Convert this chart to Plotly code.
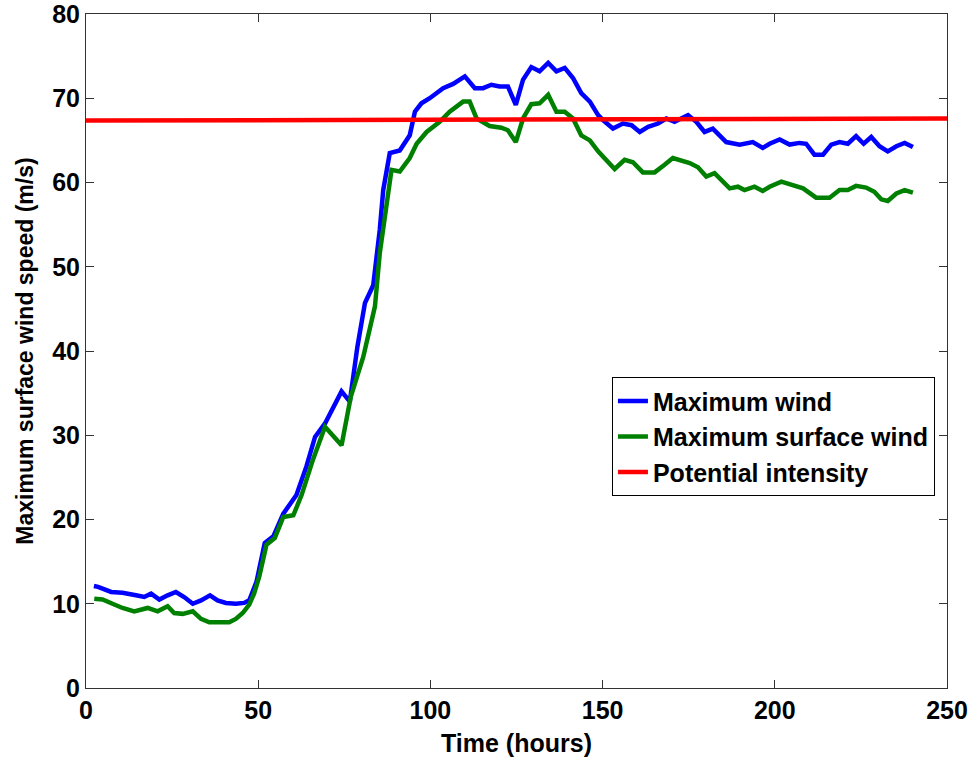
import plotly.graph_objects as go

# Maximum wind (blue)
blue_t = [2.3, 3.5, 7.3, 10.6, 14.5, 16.9, 18.9, 21.3, 23.7, 26.1, 28.5, 31.0, 33.4, 36.0, 38.2, 40.6,
          43.5, 45.9, 47.4, 49.5, 51.9, 54.4, 57.3, 61.1, 64.0, 66.5, 69.4, 74.2, 76.6, 77.8, 78.8,
          81.0, 83.4, 85.3, 86.3, 88.2, 91.1, 94.0, 95.5, 97.4, 99.8, 103.7, 106.6, 110.0, 112.9,
          115.3, 117.7, 120.1, 122.5, 124.8, 126.9, 129.3, 131.7, 134.2, 136.6, 139.0, 141.4, 143.8,
          146.3, 148.7, 150.1, 153.0, 155.9, 158.4, 160.8, 163.2, 166.1, 168.5, 170.9, 174.8, 177.2,
          179.6, 182.0, 185.9, 189.8, 193.6, 196.5, 198.5, 201.4, 204.3, 207.2, 209.1, 211.5, 214.0,
          216.4, 218.8, 221.2, 223.6, 225.8, 228.0, 230.4, 232.8, 235.3, 237.7, 240.1]
blue_v = [12.1, 12.0, 11.4, 11.3, 11.0, 10.8, 11.2, 10.5, 11.0, 11.4, 10.8, 10.0, 10.4, 11.0, 10.4, 10.1,
          10.0, 10.1, 10.4, 12.6, 17.2, 18.0, 20.7, 22.9, 26.3, 29.8, 31.4, 35.2, 34.0, 37.5, 40.5,
          45.7, 47.8, 54.4, 59.1, 63.5, 63.8, 65.6, 68.4, 69.4, 70.0, 71.2, 71.7, 72.6, 71.2,
          71.2, 71.6, 71.4, 71.4, 69.2, 72.2, 73.7, 73.2, 74.2, 73.2, 73.6, 72.4, 70.6,
          69.6, 68.0, 67.4, 66.4, 67.0, 66.8, 66.0, 66.6, 67.0, 67.6, 67.2, 68.0, 67.2,
          66.0, 66.4, 64.8, 64.5, 64.8, 64.1, 64.6, 65.1, 64.5, 64.7, 64.6, 63.3, 63.3,
          64.5, 64.8, 64.6, 65.5, 64.6, 65.4, 64.3, 63.7, 64.3, 64.7, 64.2]

# Maximum surface wind (green)
green_t = [2.4, 4.8, 7.7, 10.6, 14.0, 15.9, 17.9, 20.8, 23.7, 25.6, 28.1, 31.0, 33.4, 35.8, 38.7, 41.6,
           43.5, 45.5, 47.4, 48.8, 50.3, 52.4, 54.8, 57.3, 60.2, 62.6, 65.9, 69.4, 74.2, 76.9, 80.5,
           83.9, 85.3, 86.8, 88.7, 91.1, 94.0, 96.0, 98.9, 102.7, 105.6, 109.5, 111.4, 113.4, 117.2,
           120.6, 122.5, 124.8, 126.9, 129.3, 131.7, 134.2, 136.6, 139.0, 141.4, 143.8, 146.3, 148.7,
           150.1, 153.5, 156.4, 158.8, 161.7, 165.1, 168.0, 170.4, 175.3, 177.7, 180.1, 182.5, 186.9,
           189.3, 191.2, 194.1, 196.5, 198.5, 201.9, 204.8, 208.2, 212.0, 215.9, 218.8, 221.2, 223.6,
           226.5, 228.9, 230.9, 232.8, 235.3, 237.7, 240.1]
green_v = [10.6, 10.5, 10.0, 9.5, 9.1, 9.3, 9.5, 9.1, 9.7, 8.9, 8.8, 9.1, 8.2, 7.8, 7.8, 7.8,
           8.2, 8.9, 9.9, 11.2, 13.2, 17.0, 17.8, 20.3, 20.5, 22.9, 27.1, 31.0, 28.8, 34.6, 39.3,
           45.3, 51.6, 56.3, 61.5, 61.3, 62.9, 64.6, 66.0, 67.2, 68.4, 69.6, 69.6, 67.6, 66.7,
           66.5, 66.2, 64.8, 67.6, 69.3, 69.4, 70.4, 68.4, 68.4, 67.6, 65.6, 65.0, 63.7,
           63.1, 61.6, 62.7, 62.4, 61.2, 61.2, 62.1, 62.9, 62.3, 61.8, 60.7, 61.1, 59.3,
           59.5, 59.1, 59.5, 59.0, 59.5, 60.1, 59.7, 59.3, 58.2, 58.2, 59.1, 59.1, 59.6,
           59.4, 58.9, 58.0, 57.8, 58.7, 59.1, 58.8]

# Potential intensity (red)
pi_t = [0, 250]
pi_v = [67.35, 67.6]

x_ticks = [0, 50, 100, 150, 200, 250]
y_ticks = [0, 10, 20, 30, 40, 50, 60, 70, 80]

FONT = "Liberation Sans"
fig = go.Figure()
fig.add_trace(go.Scatter(x=blue_t, y=blue_v, mode="lines", name="<b>Maximum wind</b>",
                         line=dict(color="#0000FF", width=4.5)))
fig.add_trace(go.Scatter(x=green_t, y=green_v, mode="lines", name="<b>Maximum surface wind</b>",
                         line=dict(color="#008000", width=4.5)))
fig.add_trace(go.Scatter(x=pi_t, y=pi_v, mode="lines", name="<b>Potential intensity</b>",
                         line=dict(color="#FF0000", width=4.5)))

axis_common = dict(showgrid=False, zeroline=False, showline=True, linecolor="#333333", linewidth=1,
                   mirror="ticks", ticks="inside", ticklen=8, tickcolor="#333333",
                   automargin=False, ticklabeloverflow="allow",
                   tickfont=dict(family=FONT, size=25, color="black"))
fig.update_xaxes(range=[0, 250], tickvals=x_ticks, ticktext=[f"<b>{v}</b>" for v in x_ticks],
                 title=dict(text="<b>Time (hours)</b>", font=dict(family=FONT, size=25, color="black"),
                            standoff=11),
                 **axis_common)
fig.update_yaxes(range=[0, 80.0001], tickvals=y_ticks, ticktext=[f"<b>{v}</b>" for v in y_ticks],
                 title=dict(text="<b>Maximum surface wind speed (m/s)</b>",
                            font=dict(family=FONT, size=23, color="black"), standoff=12),
                 **axis_common)
fig.update_layout(
    width=973, height=761,
    margin=dict(l=86, r=26, t=14, b=73),
    plot_bgcolor="white", paper_bgcolor="white",
    legend=dict(x=0.986, y=0.461, xanchor="right", yanchor="top",
                bgcolor="white", bordercolor="black", borderwidth=1,
                font=dict(family=FONT, size=25, color="black")),
)
fig.write_html("out.html")
